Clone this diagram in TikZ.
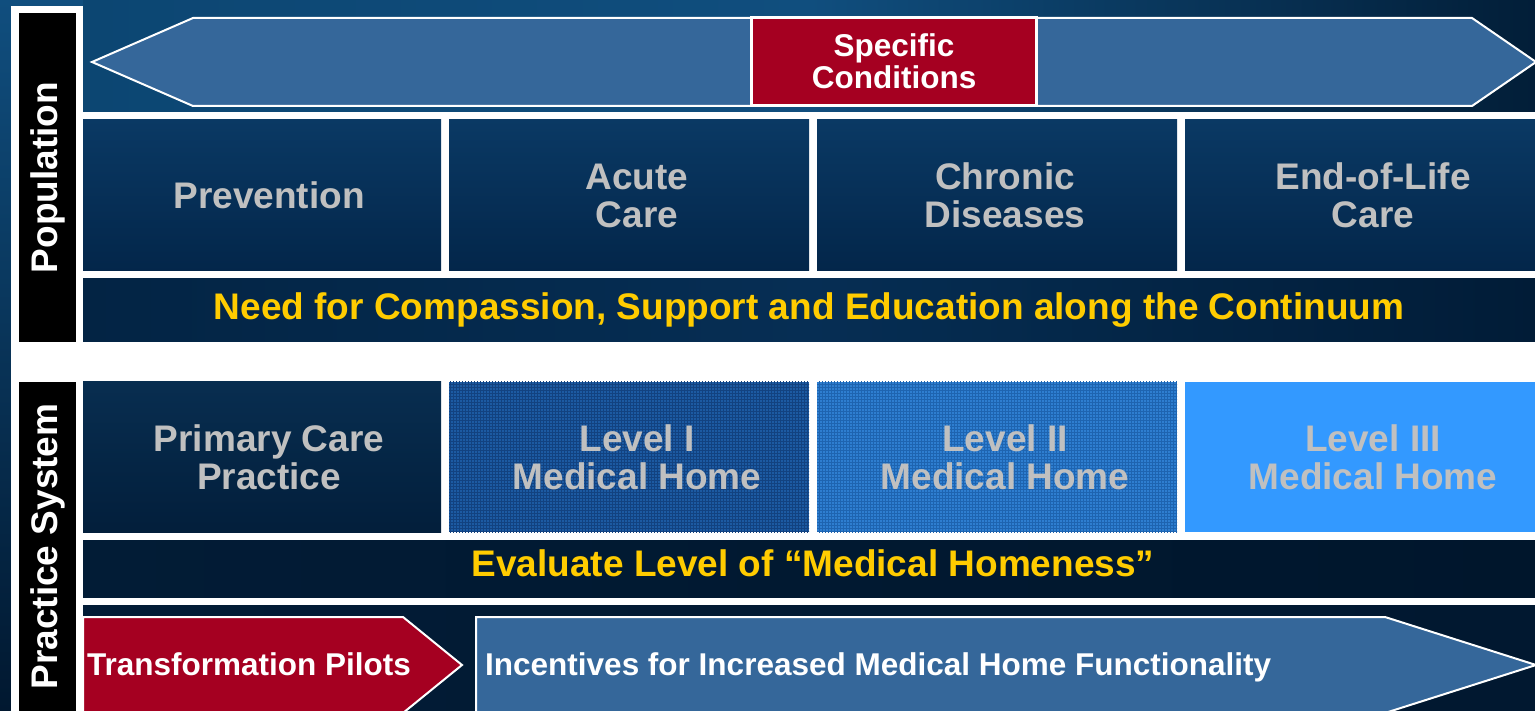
\documentclass[tikz,border=0pt]{standalone}
\usepackage{fontspec}
\setmainfont{Liberation Sans}
\usepackage{tikz}
\usetikzlibrary{positioning,calc,patterns,shapes}
\definecolor{bgtopm}{RGB}{16,78,126}
\definecolor{bgtopl}{RGB}{12,70,114}
\definecolor{bgtopr}{RGB}{2,30,56}
\definecolor{bgbot}{RGB}{1,24,48}
\definecolor{celltop}{RGB}{10,57,100}
\definecolor{cellbot}{RGB}{3,38,74}
\definecolor{bandleft}{RGB}{3,36,68}
\definecolor{bandmid}{RGB}{6,46,84}
\definecolor{bandright}{RGB}{1,28,55}
\definecolor{evalleft}{RGB}{2,28,54}
\definecolor{evalright}{RGB}{0,22,44}
\definecolor{arrowblue}{RGB}{53,103,154}
\definecolor{condred}{RGB}{165,0,33}
\definecolor{cellgray}{RGB}{192,192,192}
\definecolor{gold}{RGB}{255,204,0}
\definecolor{lvlone}{RGB}{28,90,162}
\definecolor{lvlonegrid}{RGB}{18,66,128}
\definecolor{lvltwo}{RGB}{46,126,208}
\definecolor{lvltwogrid}{RGB}{30,100,176}
\definecolor{lvlthree}{RGB}{51,153,255}

\begin{document}
\begin{tikzpicture}[x=1pt, y=-1pt,
    cell/.style={minimum width=360pt, minimum height=151pt, inner sep=0pt, outer sep=0pt},
    darkcell/.style={cell, top color=celltop, bottom color=cellbot},
    lvlcell/.style={cell, minimum height=150pt},
    celltext/.style={inner sep=0pt, align=center, text=cellgray,
        font=\fontsize{37}{38}\selectfont\bfseries},
    band/.style={minimum width=1452pt, inner sep=0pt, outer sep=0pt, text=gold,
        font=\fontsize{37}{38}\selectfont\bfseries},
    sidelabel/.style={rotate=90, fill=black, text=white, minimum width=329pt,
        minimum height=57pt, inner sep=0pt, font=\fontsize{37}{38}\selectfont\bfseries},
    arrowbody/.style={draw=white, line width=2pt, line join=miter},
    arrowtext/.style={anchor=base west, inner sep=0pt, text=white,
        font=\fontsize{31.5}{32}\selectfont\bfseries}
]
    \useasboundingbox (0,0) rectangle (1535,711);
    \clip (0,0) rectangle (1535,711);

    \shade[top color=bgtopm, bottom color=bgbot] (0,0) rectangle (1535,711);
    \shade[left color=bgtopl, right color=bgtopr, middle color=bgtopm] (83,0) rectangle (1535,112);
    \shade[left color=evalleft, right color=bgbot] (83,605) rectangle (1535,711);
    \fill[white] (11,6) rectangle (83,711);
    \fill[white] (83,112) rectangle (1535,605);

    \node[sidelabel] (poplbl) at (47.5,177.5) {Population};
    \node[sidelabel] (praclbl) at (47.5,546.5) {Practice System};

    \draw[arrowbody, fill=arrowblue] (92,62) -- (193,18) -- (1472,18) -- (1536,62)
        -- (1472,106) -- (193,106) -- cycle;
    \node[draw=white, line width=3pt, fill=condred, minimum width=285pt, minimum height=88pt,
          inner sep=0pt, align=center, text=white, font=\fontsize{31.5}{32}\selectfont\bfseries]
        (spec) at (894,61.5) {Specific\\Conditions};

    \node[darkcell, anchor=north west, minimum width=358pt] (prev) at (83,120) {};
    \node[darkcell, right=8pt of prev] (acute) {};
    \node[darkcell, right=8pt of acute] (chronic) {};
    \node[darkcell, right=8pt of chronic] (eol) {};
    \node[celltext] (prevtxt) at ([xshift=7pt]prev.center) {Prevention};
    \node[celltext] (acutetxt) at ([xshift=8pt]acute.center) {Acute\\Care};
    \node[celltext] (chronictxt) at ([xshift=8pt]chronic.center) {Chronic\\Diseases};
    \node[celltext] (eoltxt) at ([xshift=8pt]eol.center) {End-of-Life\\Care};

    \node[band, minimum height=63pt, below right=8pt and 0pt of prev.south west,
          left color=bandleft, right color=bandright, middle color=bandmid]
        (need) {Need for Compassion, Support and Education along the Continuum};

    \node[lvlcell, anchor=north west, minimum width=358pt, top color=celltop!80!black,
          bottom color=cellbot!80!black] (pcp) at (83,382) {};
    \node[lvlcell, right=8pt of pcp, fill=lvlone,
          postaction={pattern=grid, pattern color=lvlonegrid}] (lvla) {};
    \node[lvlcell, right=8pt of lvla, fill=lvltwo,
          postaction={pattern=grid, pattern color=lvltwogrid}] (lvlb) {};
    \node[lvlcell, right=8pt of lvlb, fill=lvlthree] (lvlc) {};
    \node[celltext] (pcptxt) at ([xshift=7pt]pcp.center) {Primary Care\\Practice};
    \node[celltext] (lvlatxt) at ([xshift=8pt]lvla.center) {Level I\\Medical Home};
    \node[celltext] (lvlbtxt) at ([xshift=8pt]lvlb.center) {Level II\\Medical Home};
    \node[celltext] (lvlctxt) at ([xshift=8pt]lvlc.center) {Level III\\Medical Home};

    \node[band, minimum height=57pt, below right=8pt and 0pt of pcp.south west,
          left color=evalleft, right color=evalright] (evalband) {};
    \node[inner sep=0pt, text=gold, font=\fontsize{37}{38}\selectfont\bfseries]
        (evaltext) at (813,563) {Evaluate Level of ``Medical Homeness''};

    \draw[arrowbody, fill=condred] (83,617) -- (403,617) -- (462,665) -- (403,713)
        -- (83,713) -- cycle;
    \draw[arrowbody, fill=arrowblue] (476,617) -- (1385,617) -- (1536,665) -- (1385,713)
        -- (476,713) -- cycle;
    \node[arrowtext] (pilots) at (87,675) {Transformation Pilots};
    \node[arrowtext] (incent) at (485,675) {Incentives for Increased Medical Home Functionality};
\end{tikzpicture}
\end{document}
